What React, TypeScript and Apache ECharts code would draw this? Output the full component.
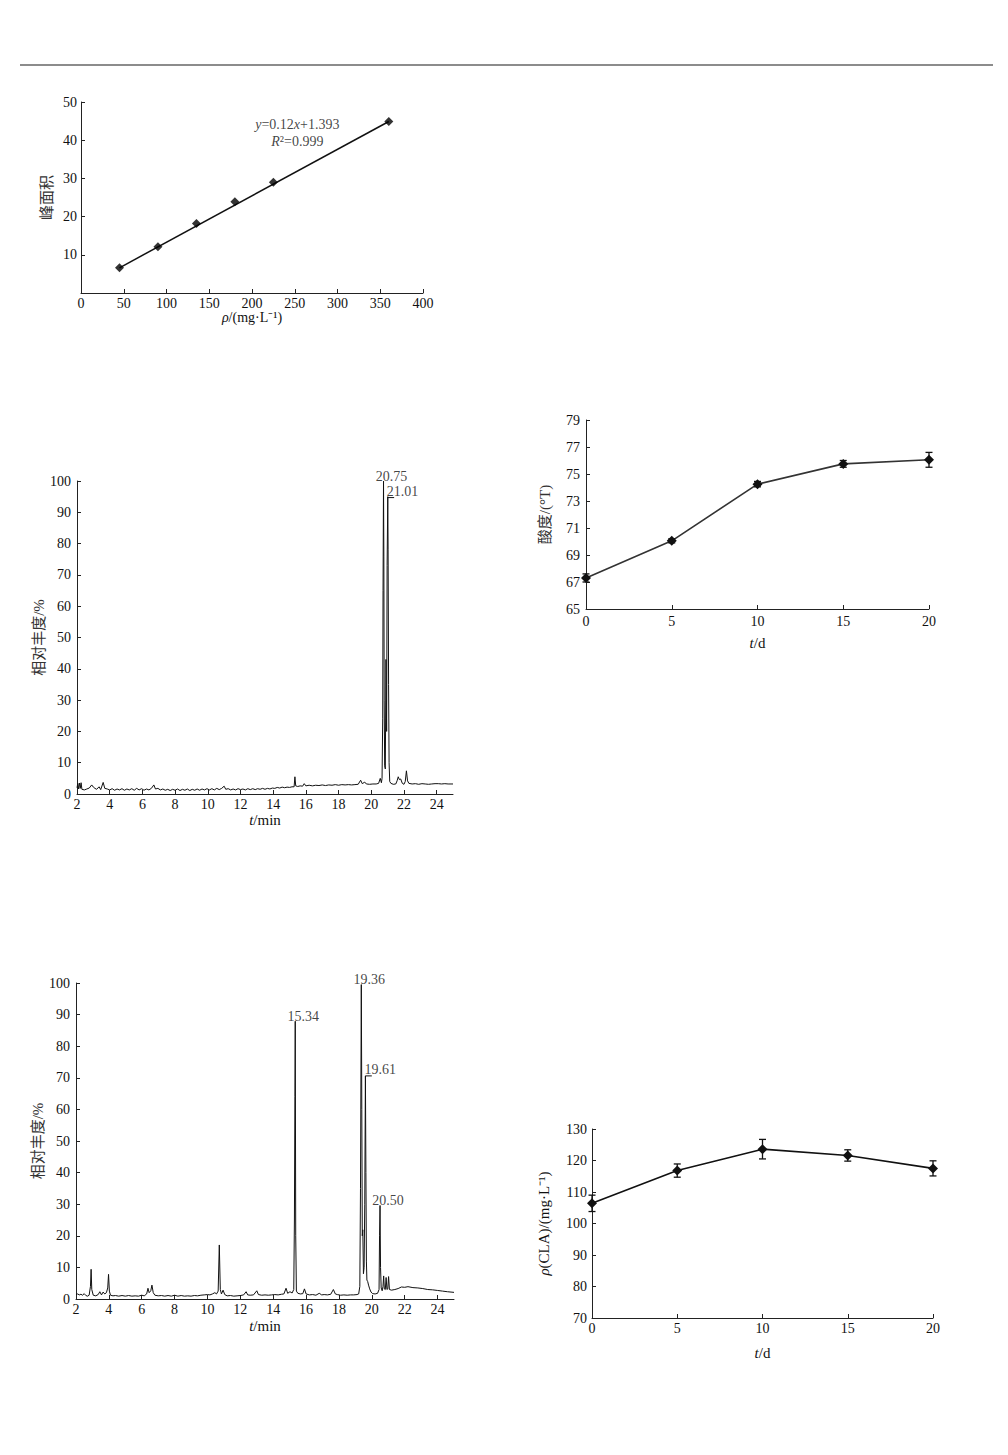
import React, { useEffect, useRef } from "react";
import * as echarts from "echarts";

const FONT = "'Liberation Serif', 'Times New Roman', 'Noto Sans CJK SC', serif";

// ---------- Chart 1: calibration curve ----------
const calX = [45, 90, 135, 180, 225, 360];
const calY = [6.6, 12.1, 18.2, 23.9, 29.0, 44.9];
const calFit = [
  [45, 6.6],
  [360, 44.9],
];
const calEqText = ["{i|y}=0.12{i|x}+1.393", "{i|R}²=0.999"];
const calEqPos = [
  [253, 44.2],
  [253, 39.6],
];

// ---------- Chart 2: chromatogram (standard) ----------
const chromA = [
  [2.0, 2.0], [2.05, 3.4], [2.1, 1.6], [2.15, 3.5], [2.2, 1.8], [2.25, 3.6], [2.3, 1.5], [2.45, 1.3],
  [2.6, 1.6], [2.75, 1.9], [2.9, 2.9], [3.0, 2.2], [3.1, 1.8], [3.2, 1.5], [3.35, 2.3], [3.45, 1.4],
  [3.6, 3.7], [3.7, 1.8], [3.85, 1.6], [4.0, 1.3], [4.15, 1.7], [4.3, 1.2], [4.45, 1.6], [4.6, 1.3],
  [4.75, 1.7], [4.9, 1.2], [5.05, 1.6], [5.2, 1.3], [5.35, 1.7], [5.5, 1.2], [5.65, 1.8], [5.8, 1.3],
  [5.95, 1.7], [6.1, 1.2], [6.25, 1.6], [6.4, 1.3], [6.55, 1.8], [6.7, 2.9], [6.8, 1.6], [6.95, 1.8],
  [7.1, 1.3], [7.25, 1.6], [7.4, 1.2], [7.55, 1.5], [7.7, 1.1], [7.85, 1.5], [8.0, 1.2], [8.15, 1.6],
  [8.3, 1.1], [8.45, 1.5], [8.6, 1.2], [8.75, 1.6], [8.9, 1.1], [9.05, 1.5], [9.2, 1.2], [9.35, 1.6],
  [9.5, 1.2], [9.65, 1.6], [9.8, 1.3], [9.95, 1.7], [10.1, 1.3], [10.25, 1.7], [10.4, 1.3], [10.55, 1.8],
  [10.7, 1.4], [10.85, 1.8], [11.0, 2.5], [11.1, 1.5], [11.25, 1.7], [11.4, 1.3], [11.55, 1.6], [11.7, 1.3],
  [11.85, 1.7], [12.0, 1.4], [12.15, 1.6], [12.3, 1.3], [12.45, 1.7], [12.6, 1.4], [12.75, 1.7], [12.9, 1.4],
  [13.05, 1.7], [13.2, 1.5], [13.35, 1.8], [13.5, 1.5], [13.65, 1.8], [13.8, 1.6], [13.95, 1.9], [14.1, 1.8],
  [14.25, 2.1], [14.4, 1.9], [14.55, 2.2], [14.7, 2.0], [14.85, 2.2], [15.0, 2.1], [15.15, 2.3], [15.28, 2.3],
  [15.33, 5.5], [15.38, 2.6], [15.5, 2.4], [15.65, 2.6], [15.8, 2.5], [15.9, 3.3], [16.0, 2.6], [16.2, 2.8],
  [16.4, 2.6], [16.6, 2.8], [16.8, 2.7], [17.0, 2.9], [17.2, 2.7], [17.4, 2.9], [17.6, 2.8], [17.8, 3.0],
  [18.0, 2.8], [18.2, 3.0], [18.4, 2.9], [18.6, 3.0], [18.8, 2.9], [19.0, 3.0], [19.2, 3.1], [19.35, 4.4],
  [19.45, 3.3], [19.6, 3.8], [19.7, 3.2], [19.9, 3.1], [20.1, 3.2], [20.3, 3.2], [20.45, 3.4], [20.55, 5.0],
  [20.62, 3.6], [20.66, 5.0], [20.7, 24], [20.72, 65], [20.75, 100], [20.77, 76], [20.79, 30], [20.82, 9],
  [20.86, 8], [20.9, 43], [20.94, 20], [20.97, 73], [21.01, 95], [21.03, 78], [21.06, 35], [21.09, 10],
  [21.13, 4], [21.2, 3.4], [21.35, 3.1], [21.5, 3.2], [21.58, 4.2], [21.65, 5.5], [21.72, 4.6], [21.8, 4.8],
  [21.9, 3.4], [22.0, 3.1], [22.08, 4.0], [22.15, 7.4], [22.22, 4.2], [22.3, 3.4], [22.5, 3.2], [22.7, 3.3],
  [22.9, 3.1], [23.1, 3.3], [23.3, 3.2], [23.5, 3.1], [23.7, 3.2], [23.9, 3.3], [24.1, 3.3], [24.3, 3.2],
  [24.5, 3.3], [24.7, 3.2], [25.0, 3.2],
];
const peakLabelsA = [{ t: 20.75, y: 100, text: "20.75" }];
const bracketLabelsA = [{ t: 21.01, y: 94.7, end: 21.4, text: "21.01" }];

// ---------- Chart 3: chromatogram (sample) ----------
const chromB = [
  [2.0, 1.4], [2.1, 1.6], [2.2, 1.3], [2.3, 1.5], [2.4, 1.2], [2.5, 1.7], [2.6, 1.1], [2.7, 0.9],
  [2.8, 1.2], [2.88, 4], [2.92, 9.4], [2.96, 3], [3.05, 1.2], [3.2, 1.0], [3.35, 1.4], [3.45, 2.3],
  [3.55, 1.3], [3.65, 2.2], [3.75, 1.6], [3.85, 2.0], [3.93, 3.5], [3.98, 7.8], [4.03, 2.5], [4.1, 1.2],
  [4.25, 1.0], [4.4, 1.1], [4.6, 0.9], [4.8, 1.1], [5.0, 0.9], [5.2, 1.1], [5.4, 0.9], [5.6, 1.0],
  [5.8, 0.9], [6.0, 1.2], [6.15, 1.0], [6.3, 1.6], [6.38, 3.4], [6.45, 2.0], [6.55, 2.6], [6.62, 4.4],
  [6.7, 2.0], [6.8, 1.2], [7.0, 1.0], [7.2, 1.1], [7.4, 0.9], [7.6, 1.1], [7.8, 0.9], [8.0, 1.2],
  [8.2, 0.9], [8.4, 1.1], [8.6, 0.9], [8.8, 1.0], [9.0, 0.9], [9.2, 1.1], [9.4, 1.0], [9.6, 1.2],
  [9.8, 1.3], [10.0, 1.4], [10.15, 1.3], [10.3, 1.6], [10.45, 2.0], [10.55, 1.6], [10.65, 2.5], [10.72, 17.1],
  [10.78, 3.0], [10.85, 1.6], [10.95, 2.8], [11.05, 1.4], [11.2, 1.0], [11.4, 1.1], [11.6, 0.9], [11.8, 1.0],
  [12.0, 1.1], [12.2, 1.3], [12.35, 2.3], [12.45, 1.3], [12.6, 1.2], [12.8, 1.3], [13.0, 2.6], [13.1, 1.4],
  [13.3, 1.2], [13.5, 1.3], [13.7, 1.2], [13.9, 1.3], [14.1, 1.4], [14.3, 1.3], [14.5, 1.5], [14.65, 1.6],
  [14.78, 3.4], [14.88, 1.8], [15.02, 2.3], [15.15, 1.9], [15.25, 3], [15.29, 25], [15.32, 64], [15.34, 87.9],
  [15.37, 20], [15.41, 2.5], [15.5, 1.8], [15.65, 1.6], [15.8, 1.7], [15.9, 3.2], [16.0, 1.6], [16.2, 1.3],
  [16.4, 1.4], [16.6, 1.2], [16.8, 1.8], [16.95, 1.3], [17.1, 1.4], [17.3, 1.3], [17.5, 1.5], [17.66, 3.0],
  [17.78, 1.6], [17.9, 1.4], [18.1, 1.2], [18.3, 1.3], [18.5, 1.2], [18.7, 1.3], [18.9, 1.3], [19.1, 1.4],
  [19.2, 1.6], [19.27, 4], [19.31, 35], [19.36, 99.5], [19.39, 60], [19.42, 20], [19.45, 21.9], [19.49, 8],
  [19.53, 10], [19.57, 30], [19.61, 70.6], [19.64, 40], [19.67, 12], [19.7, 6], [19.75, 5.5], [19.8, 4.4],
  [19.87, 3.2], [19.95, 2.2], [20.05, 1.7], [20.2, 1.6], [20.35, 1.8], [20.44, 3], [20.47, 20], [20.5, 29.6],
  [20.53, 10], [20.57, 3.5], [20.63, 2.6], [20.68, 4], [20.72, 7.3], [20.76, 3.2], [20.82, 3.0], [20.87, 6.8],
  [20.92, 3.0], [20.97, 3.2], [21.02, 7.1], [21.07, 3.0], [21.2, 2.8], [21.4, 3.0], [21.6, 3.3], [21.8, 3.8],
  [22.0, 3.7], [22.2, 3.9], [22.5, 3.6], [22.8, 3.5], [23.1, 3.3], [23.4, 3.0], [23.7, 2.9], [24.0, 2.7],
  [24.3, 2.5], [24.6, 2.3], [25.0, 2.1],
];
const peakLabelsB = [
  { t: 15.34, y: 87.9, text: "15.34" },
  { t: 19.36, y: 99.5, text: "19.36" },
  { t: 20.5, y: 29.6, text: "20.50" },
];
const bracketLabelsB = [{ t: 19.61, y: 70.6, end: 20.0, text: "19.61" }];

const chromTicks = [2, 4, 6, 8, 10, 12, 14, 16, 18, 20, 22, 24];

// ---------- Chart 4: acidity ----------
const dayX = [0, 5, 10, 15, 20];
const acidY = [67.3, 70.05, 74.25, 75.75, 76.05];
const acidErr = [0.3, 0.15, 0.2, 0.25, 0.55];
const acidTicks = [65, 67, 69, 71, 73, 75, 77, 79];

// ---------- Chart 5: CLA ----------
const claY = [106.4, 116.8, 123.6, 121.6, 117.5];
const claErr = [2.6, 2.1, 3.1, 1.8, 2.4];

const INK = "#111";

function rich(size: number) {
  return {
    i: { fontStyle: "italic", fontFamily: FONT, fontSize: size, color: INK },
  };
}

function makeAxis(gridIndex: number, min: number, max: number, o: any) {
  return {
    type: "value",
    gridIndex,
    min,
    max,
    interval: o.interval,
    name: o.name,
    nameLocation: "middle",
    nameGap: o.nameGap,
    nameRotate: o.nameRotate || 0,
    nameTextStyle: {
      fontFamily: FONT,
      fontSize: o.nameSize || 15,
      color: o.nameColor || "#333",
      rich: rich(o.nameSize || 15),
    },
    axisLine: { show: true, onZero: false, lineStyle: { color: "#222", width: 1 } },
    axisTick: {
      show: true,
      inside: true,
      length: 4,
      lineStyle: { color: "#222", width: 1 },
      customValues: o.customValues,
    },
    axisLabel: {
      color: INK,
      fontSize: 14,
      fontFamily: FONT,
      margin: o.labelMargin ?? 4,
      showMinLabel: o.showMinLabel ?? true,
      showMaxLabel: true,
      customValues: o.customValues,
    },
    splitLine: { show: false },
  };
}

function errorSeries(idx: number, xs: number[], ys: number[], es: number[]) {
  return {
    type: "custom",
    xAxisIndex: idx,
    yAxisIndex: idx,
    data: xs.map((x, i) => [x, ys[i], es[i]]),
    encode: { x: 0, y: 1 },
    z: 3,
    renderItem: (_p: any, api: any) => {
      const x = api.value(0);
      const y = api.value(1);
      const e = api.value(2);
      const t = api.coord([x, y + e]);
      const b = api.coord([x, y - e]);
      const w = 3.5;
      const st = { stroke: "#111", lineWidth: 1.3 };
      return {
        type: "group",
        children: [
          { type: "line", shape: { x1: t[0], y1: t[1], x2: b[0], y2: b[1] }, style: st },
          { type: "line", shape: { x1: t[0] - w, y1: t[1], x2: t[0] + w, y2: t[1] }, style: st },
          { type: "line", shape: { x1: b[0] - w, y1: b[1], x2: b[0] + w, y2: b[1] }, style: st },
        ],
      };
    },
  };
}

function peakLabelSeries(idx: number, peaks: any[], brackets: any[]) {
  const data = [
    ...peaks.map((p) => ({ value: [p.t, p.y], name: p.text })),
    ...brackets.map((p) => ({
      value: [p.t, p.y],
      name: p.text,
      label: { align: "left", offset: [-1, 1] },
    })),
  ];
  return {
    type: "scatter",
    xAxisIndex: idx,
    yAxisIndex: idx,
    symbolSize: 0,
    silent: true,
    z: 5,
    data,
    label: {
      show: true,
      position: "top",
      distance: 0,
      offset: [8, 2],
      formatter: "{b}",
      fontFamily: FONT,
      fontSize: 14,
      color: INK,
    },
  };
}

function bracketSeries(idx: number, brackets: any[]) {
  return brackets.map((b) => ({
    type: "line",
    xAxisIndex: idx,
    yAxisIndex: idx,
    symbol: "none",
    silent: true,
    lineStyle: { color: INK, width: 1 },
    data: [
      [b.t, b.y],
      [b.end, b.y],
    ],
  }));
}

export default function App() {
  const ref = useRef<HTMLDivElement>(null);

  useEffect(() => {
    if (!ref.current) return;
    const chart = echarts.init(ref.current, undefined, { renderer: "svg" });

    const grids = [
      { left: 81, top: 102, width: 342, height: 191 },
      { left: 77, top: 481, width: 376, height: 313 },
      { left: 76, top: 983, width: 378, height: 316 },
      { left: 586, top: 420, width: 343, height: 189 },
      { left: 592, top: 1129, width: 341, height: 189 },
    ].map((g) => ({ ...g, containLabel: false, outerBoundsMode: "none" }));

    const xAxis = [
      makeAxis(0, 0, 400, {
        interval: 50,
        name: "{i|ρ}/(mg·L⁻¹)",
        nameGap: 17,
        nameSize: 14,
        nameColor: INK,
        labelMargin: 3,
      }),
      makeAxis(1, 2, 25, {
        customValues: chromTicks,
        name: "{i|t}/min",
        nameGap: 18,
        nameSize: 15,
        nameColor: INK,
        labelMargin: 3,
      }),
      makeAxis(2, 2, 25, {
        customValues: chromTicks,
        name: "{i|t}/min",
        nameGap: 19,
        nameSize: 15,
        nameColor: INK,
        labelMargin: 3,
      }),
      makeAxis(3, 0, 20, {
        interval: 5,
        name: "{i|t}/d",
        nameGap: 26,
        nameSize: 15,
        nameColor: INK,
        labelMargin: 5,
      }),
      makeAxis(4, 0, 20, {
        interval: 5,
        name: "{i|t}/d",
        nameGap: 27,
        nameSize: 15,
        nameColor: INK,
        labelMargin: 3,
      }),
    ];

    const yAxis = [
      makeAxis(0, 0, 50, {
        interval: 10,
        name: "峰面积",
        nameGap: 27,
        nameRotate: 90,
        showMinLabel: false,
        labelMargin: 4,
      }),
      makeAxis(1, 0, 100, {
        interval: 10,
        name: "相对丰度/%",
        nameGap: 28,
        nameRotate: 90,
        labelMargin: 6,
      }),
      makeAxis(2, 0, 100, {
        interval: 10,
        name: "相对丰度/%",
        nameGap: 31,
        nameRotate: 90,
        labelMargin: 6,
      }),
      makeAxis(3, 65, 79, {
        customValues: acidTicks,
        name: "酸度/(°T)",
        nameGap: 34,
        nameRotate: 90,
        labelMargin: 6,
      }),
      makeAxis(4, 70, 130, {
        interval: 10,
        name: "{i|ρ}(CLA)/(mg·L⁻¹)",
        nameGap: 41,
        nameRotate: 90,
        nameSize: 15,
        nameColor: INK,
        labelMargin: 5,
      }),
    ];

    const series: any[] = [
      // chart 1
      {
        type: "line",
        xAxisIndex: 0,
        yAxisIndex: 0,
        symbol: "none",
        lineStyle: { color: INK, width: 1.5 },
        data: calFit,
        z: 2,
      },
      {
        type: "scatter",
        xAxisIndex: 0,
        yAxisIndex: 0,
        symbol: "diamond",
        symbolSize: 9,
        itemStyle: { color: "#000" },
        data: calX.map((x, i) => [x, calY[i]]),
        z: 3,
      },
      {
        type: "scatter",
        xAxisIndex: 0,
        yAxisIndex: 0,
        symbolSize: 0,
        silent: true,
        data: calEqPos.map((p, i) => ({ value: p, name: calEqText[i] })),
        label: {
          show: true,
          position: "inside",
          formatter: "{b}",
          fontFamily: FONT,
          fontSize: 14,
          color: INK,
          rich: rich(14),
        },
      },
      // chart 2
      {
        type: "line",
        xAxisIndex: 1,
        yAxisIndex: 1,
        symbol: "none",
        lineStyle: { color: INK, width: 1 },
        data: chromA,
      },
      ...bracketSeries(1, bracketLabelsA),
      peakLabelSeries(1, peakLabelsA, bracketLabelsA),
      // chart 3
      {
        type: "line",
        xAxisIndex: 2,
        yAxisIndex: 2,
        symbol: "none",
        lineStyle: { color: INK, width: 1 },
        data: chromB,
      },
      ...bracketSeries(2, bracketLabelsB),
      peakLabelSeries(2, peakLabelsB, bracketLabelsB),
      // chart 4
      {
        type: "line",
        xAxisIndex: 3,
        yAxisIndex: 3,
        symbol: "diamond",
        symbolSize: 10,
        itemStyle: { color: "#111" },
        lineStyle: { color: "#333", width: 1.6 },
        data: dayX.map((x, i) => [x, acidY[i]]),
        z: 2,
      },
      errorSeries(3, dayX, acidY, acidErr),
      // chart 5
      {
        type: "line",
        xAxisIndex: 4,
        yAxisIndex: 4,
        symbol: "diamond",
        symbolSize: 10,
        itemStyle: { color: "#111" },
        lineStyle: { color: "#111", width: 1.6 },
        data: dayX.map((x, i) => [x, claY[i]]),
        z: 2,
      },
      errorSeries(4, dayX, claY, claErr),
    ];

    chart.setOption({
      animation: false,
      backgroundColor: "#ffffff",
      textStyle: { fontFamily: FONT },
      grid: grids,
      xAxis,
      yAxis,
      series,
      graphic: [
        {
          type: "line",
          shape: { x1: 20, y1: 65, x2: 993, y2: 65 },
          style: { stroke: "#8c8c8c", lineWidth: 2 },
          silent: true,
        },
      ],
    });

    return () => chart.dispose();
  }, []);

  return (
    <div
      ref={ref}
      style={{ position: "absolute", left: 0, top: 0, width: 1008, height: 1455, background: "#fff" }}
    />
  );
}
